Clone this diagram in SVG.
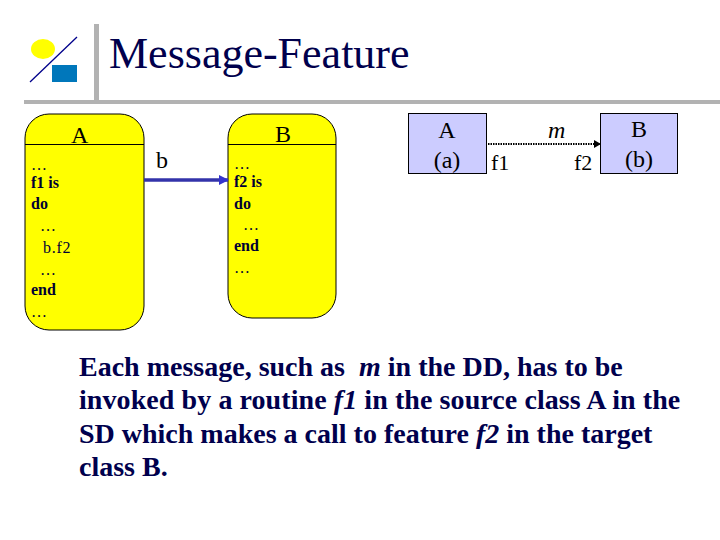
<svg xmlns="http://www.w3.org/2000/svg" width="720" height="540" viewBox="0 0 720 540">
<style>
text{font-family:"Liberation Serif","Times New Roman",serif;fill:#000;white-space:pre}
.title{font-size:44px;fill:#00004d}
.body{font-size:28px;fill:#00004d;font-weight:bold}
.head{font-size:24px}
.code{font-size:16px;fill:#000033}
.b{font-weight:bold}
.i{font-style:italic}
.lab{font-size:22px}
.card{fill:#ffff00;stroke:#000;stroke-width:1}
.cls{fill:#ccccff;stroke:#000;stroke-width:1}
.bar{fill:#b2b2b2}
</style>
<defs>
<marker id="bluehead" markerUnits="userSpaceOnUse" markerWidth="10" markerHeight="10" refX="9" refY="5" orient="auto"><path d="M0,0L10,5L0,10Z" fill="#3333cc"/></marker>
<marker id="blackhead" markerUnits="userSpaceOnUse" markerWidth="7" markerHeight="8" refX="6" refY="4" orient="auto"><path d="M0,0L7,4L0,8Z" fill="#000"/></marker>
</defs>
<g id="logo">
<ellipse cx="43" cy="49" rx="12" ry="10" fill="#ffff00"/>
<rect x="52" y="65" width="25" height="17" fill="#0077bb"/>
<line x1="30" y1="82" x2="77" y2="37" stroke="#00008b" stroke-width="1.3"/>
</g>
<rect class="bar" x="94" y="24" width="5" height="76"/>
<rect class="bar" x="24" y="100" width="696" height="4"/>
<text class="title" x="109" y="68">Message-Feature</text>
<g id="class-a-sd">
<rect class="card" x="25" y="114" width="119" height="216" rx="24" ry="24"/>
<line x1="25" y1="144.500" x2="144" y2="144.500" stroke="#000"/>
<text class="head" x="71" y="143">A</text>
<text class="code" x="31" y="170">…</text>
<text class="code b" x="31" y="188">f1 is</text>
<text class="code b" x="31" y="209">do</text>
<text class="code" x="40" y="231">…</text>
<text class="code" x="43" y="253" letter-spacing="0.700">b.f2</text>
<text class="code" x="40" y="275">…</text>
<text class="code b" x="31" y="295">end</text>
<text class="code" x="31" y="317">…</text>
</g>
<g id="class-b-sd">
<rect class="card" x="228" y="114" width="108" height="204" rx="24" ry="24"/>
<line x1="228" y1="144.500" x2="336" y2="144.500" stroke="#000"/>
<text class="head" x="275" y="142">B</text>
<text class="code" x="234" y="169">…</text>
<text class="code b" x="234" y="187">f2 is</text>
<text class="code b" x="234" y="209">do</text>
<text class="code" x="243" y="230">…</text>
<text class="code b" x="234" y="251">end</text>
<text class="code" x="234" y="273">…</text>
</g>
<g id="class-a-dd">
<rect class="cls" x="408.500" y="113.500" width="78" height="60"/>
<text class="head" x="447" y="138" text-anchor="middle">A</text>
<text class="head" x="447" y="168" text-anchor="middle">(a)</text>
</g>
<g id="class-b-dd">
<rect class="cls" x="600.500" y="113.500" width="77" height="60"/>
<text class="head" x="639" y="137" text-anchor="middle">B</text>
<text class="head" x="639" y="167" text-anchor="middle">(b)</text>
</g>
<g id="connectors">
<line x1="144" y1="180" x2="228" y2="180" stroke="#3333aa" stroke-width="3.500" marker-end="url(#bluehead)"/>
<line x1="488" y1="144" x2="600" y2="144" stroke="#000" stroke-width="2" stroke-dasharray="1.500 1" marker-end="url(#blackhead)"/>
</g>
<text class="head" x="156" y="168">b</text>
<text class="head i" x="548" y="138">m</text>
<text class="lab" x="491" y="170">f1</text>
<text class="lab" x="574" y="170">f2</text>
<text class="body" x="79" y="376">Each message, such as  <tspan class="i">m</tspan> in the DD, has to be</text>
<text class="body" x="79" y="409" letter-spacing="0.080">invoked by a routine <tspan class="i">f1</tspan> in the source class A in the</text>
<text class="body" x="79" y="443">SD which makes a call to feature <tspan class="i">f2</tspan> in the target</text>
<text class="body" x="79" y="476">class B.</text>
</svg>
